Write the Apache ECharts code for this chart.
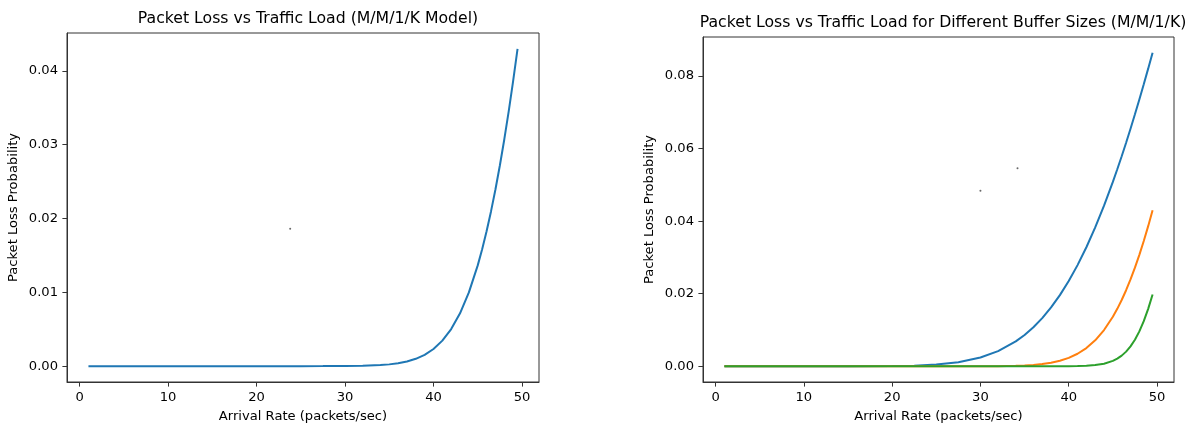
<!DOCTYPE html>
<html><head><meta charset="utf-8">
<script src="https://cdn.jsdelivr.net/npm/echarts@6/dist/echarts.min.js"></script>
<style>html,body{margin:0;padding:0;background:#fff}#c{width:1185px;height:428px}</style>
</head><body><div id="c"></div>
<script>
// Arrival rate samples (packets/sec)
const arrivalRate = [1, 5, 10, 15, 20, 22.5, 25, 27.5, 30, 32, 34, 35, 36, 37, 38, 39, 40, 41, 42, 43, 44, 45, 45.5, 46, 46.5, 47, 47.5, 48, 48.5, 49, 49.5];
// Left plot: single buffer size
const lossSingle = [0, 0, 0, 0, 0, 0.0000001, 0.0000005, 0.000003, 0.000015, 0.000048, 0.000143, 0.000239, 0.000392, 0.000631, 0.000993, 0.001537, 0.002327, 0.003454, 0.005024, 0.007159, 0.009989, 0.013652, 0.015833, 0.018266, 0.020963, 0.023932, 0.027181, 0.030712, 0.034525, 0.038619, 0.042987];
// Right plot: three buffer sizes
const lossSmallBuf = [0, 0, 0.0000001, 0.000004, 0.000063, 0.000187, 0.000489, 0.001141, 0.002427, 0.004183, 0.006863, 0.008645, 0.010773, 0.013288, 0.016219, 0.019614, 0.023493, 0.027884, 0.032804, 0.038265, 0.044270, 0.050814, 0.054284, 0.057884, 0.061609, 0.065459, 0.069427, 0.073510, 0.077705, 0.082012, 0.086410];
const lossMidBuf = [0, 0, 0, 0, 0, 0.0000001, 0.0000005, 0.000003, 0.000015, 0.000048, 0.000143, 0.000239, 0.000392, 0.000631, 0.000993, 0.001537, 0.002327, 0.003454, 0.005024, 0.007159, 0.009989, 0.013652, 0.015833, 0.018266, 0.020963, 0.023932, 0.027181, 0.030712, 0.034525, 0.038619, 0.042987];
const lossLargeBuf = [0, 0, 0, 0, 0, 0, 0, 0, 0, 0, 0, 0.0000002, 0.0000006, 0.0000015, 0.000004, 0.000011, 0.000027, 0.000064, 0.000150, 0.000337, 0.000726, 0.001498, 0.002114, 0.002945, 0.004049, 0.005483, 0.007319, 0.009619, 0.012440, 0.015828, 0.019808];
// Tiny stray dots visible in the picture
const strayLeftX = [23.8], strayLeftY = [0.0186];
const strayRightX = [30.0, 34.2], strayRightY = [0.0484, 0.0546];
// Tick labels
const xTicks = [0, 10, 20, 30, 40, 50];
const yTicksLeft = [0, 0.01, 0.02, 0.03, 0.04];
const yTicksRight = [0, 0.02, 0.04, 0.06, 0.08];

const FONT = 'DejaVu Sans';
const FS = 13.1;
const TFS = 15.7;
const pairs = (xs, ys) => xs.map((x, i) => [x, ys[i]]);
const pad = (arr) => { const lo = Math.min(...arr), hi = Math.max(...arr), r = hi - lo; return [lo - 0.05 * r, hi + 0.05 * r]; };
const xr = pad(arrivalRate);
const yrL = pad(lossSingle);
const yrR = pad(lossSmallBuf.concat(lossMidBuf, lossLargeBuf));

function xAxis(gi) {
  return {
    type: 'value', gridIndex: gi, min: xr[0], max: xr[1],
    name: 'Arrival Rate (packets/sec)', nameLocation: 'middle', nameGap: 28,
    nameTextStyle: { fontFamily: FONT, fontSize: FS, color: '#000' },
    axisLine: { show: true, onZero: false, lineStyle: { color: '#333', width: 1 } }, splitLine: { show: false },
    axisTick: { show: true, inside: false, length: 4.6, lineStyle: { color: '#333' }, customValues: xTicks },
    axisLabel: { fontFamily: FONT, fontSize: FS, color: '#000', margin: 9, customValues: xTicks, formatter: v => String(v) }
  };
}
function yAxis(gi, r, ticks) {
  return {
    type: 'value', gridIndex: gi, min: r[0], max: r[1],
    name: 'Packet Loss Probability', nameLocation: 'middle', nameGap: 46.5,
    nameTextStyle: { fontFamily: FONT, fontSize: FS, color: '#000' },
    axisLine: { show: true, onZero: false, lineStyle: { color: '#333', width: 1 } }, splitLine: { show: false },
    axisTick: { show: true, inside: false, length: 4.6, lineStyle: { color: '#333' }, customValues: ticks },
    axisLabel: { fontFamily: FONT, fontSize: FS, color: '#000', margin: 9, customValues: ticks, formatter: v => v.toFixed(2) }
  };
}
const line = (xi, data, color) => ({
  type: 'line', xAxisIndex: xi, yAxisIndex: xi, data, showSymbol: false, smooth: false,
  lineStyle: { color, width: 2 }, itemStyle: { color }, animation: false, silent: true
});
const dots = (xi, data) => ({
  type: 'scatter', xAxisIndex: xi, yAxisIndex: xi, data, symbolSize: 2, itemStyle: { color: '#444' }, animation: false, silent: true
});

const chart = echarts.init(document.getElementById('c'), null, { renderer: 'canvas' });
chart.setOption({
  backgroundColor: '#fff',
  animation: false,
  title: [
    { text: 'Packet Loss vs Traffic Load (M/M/1/K Model)', left: 303, top: 6, textAlign: 'center',
      textStyle: { fontFamily: FONT, fontSize: TFS, fontWeight: 'normal', color: '#000' } },
    { text: 'Packet Loss vs Traffic Load for Different Buffer Sizes (M/M/1/K)', left: 938, top: 9.5, textAlign: 'center',
      textStyle: { fontFamily: FONT, fontSize: TFS, fontWeight: 'normal', color: '#000' } }
  ],
  grid: [
    { left: 67, top: 33, width: 472, height: 351, show: true, borderColor: '#333', borderWidth: 1, backgroundColor: 'transparent' },
    { left: 703, top: 37, width: 471, height: 351, show: true, borderColor: '#333', borderWidth: 1, backgroundColor: 'transparent' }
  ],
  xAxis: [xAxis(0), xAxis(1)],
  yAxis: [yAxis(0, yrL, yTicksLeft), yAxis(1, yrR, yTicksRight)],
  series: [
    line(0, pairs(arrivalRate, lossSingle), '#1f77b4'),
    line(1, pairs(arrivalRate, lossSmallBuf), '#1f77b4'),
    line(1, pairs(arrivalRate, lossMidBuf), '#ff7f0e'),
    line(1, pairs(arrivalRate, lossLargeBuf), '#2ca02c'),
    dots(0, pairs(strayLeftX, strayLeftY)),
    dots(1, pairs(strayRightX, strayRightY))
  ]
});
</script></body></html>
